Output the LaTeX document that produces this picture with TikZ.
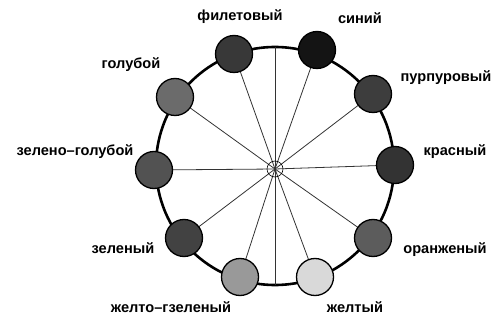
\documentclass[tikz,border=0pt]{standalone}
\usepackage{fontspec}
\setmainfont{Liberation Sans}
\begin{document}
\begin{tikzpicture}[x=1pt,y=-1pt,
  rim/.style={line width=2.6pt,black},
  spoke/.style={line width=0.8pt,black!80},
  hue/.style={circle,draw=black,line width=1.3pt,minimum size=37pt,inner sep=0pt},
  lbl/.style={font=\fontsize{14.6}{16}\selectfont\bfseries,inner sep=0pt}]
\useasboundingbox (0,0) rectangle (492,320);
% colour wheel rim
\coordinate (c) at (275,166);
\coordinate (hub) at (275,169);
\draw[rim] (c) circle[radius=119];
% hue positions
\coordinate (p0) at (395,165);
\coordinate (p1) at (373,94);
\coordinate (p2) at (317,50);
\coordinate (p3) at (234,54);
\coordinate (p4) at (175,97);
\coordinate (p5) at (154,170);
\coordinate (p6) at (184,238);
\coordinate (p7) at (240,277);
\coordinate (p8) at (315,277);
\coordinate (p9) at (373,238);
\coordinate (top) at (275,47);
\coordinate (bot) at (275,285);
% spokes
\foreach \p in {p0,p1,p2,p3,p4,p5,p6,p7,p8,p9,top,bot}
  \draw[spoke] (hub) -- (\p);
\draw[line width=0.6pt] (hub) circle[radius=8];
% hue discs
\node[hue,fill=black!80] (krasny) at (p0) {};
\node[hue,fill=black!76] (purpur) at (p1) {};
\node[hue,fill=black!92] (siny) at (p2) {};
\node[hue,fill=black!78] (filet) at (p3) {};
\node[hue,fill=black!58] (goluboy) at (p4) {};
\node[hue,fill=black!68] (zgol) at (p5) {};
\node[hue,fill=black!74] (zeleny) at (p6) {};
\node[hue,fill=black!40] (zhzel) at (p7) {};
\node[hue,fill=black!15] (zhelty) at (p8) {};
\node[hue,fill=black!64] (oranzh) at (p9) {};
% names
\node[lbl] (tkrasny) at (455,152) {красный};
\node[lbl] (tpurpur) at (446,78) {пурпуровый};
\node[lbl] (tsiny) at (360,18) {синий};
\node[lbl] (tfilet) at (240,17) {филетовый};
\node[lbl] (tgoluboy) at (131,65) {голубой};
\node[lbl] (tzgol) at (75,152) {зелено–голубой};
\node[lbl] (tzeleny) at (123,248) {зеленый};
\node[lbl] (tzhzel) at (171,307) {желто–гзеленый};
\node[lbl] (tzhelty) at (355,307) {желтый};
\node[lbl] (toranzh) at (445,250) {оранженый};
\end{tikzpicture}
\end{document}
